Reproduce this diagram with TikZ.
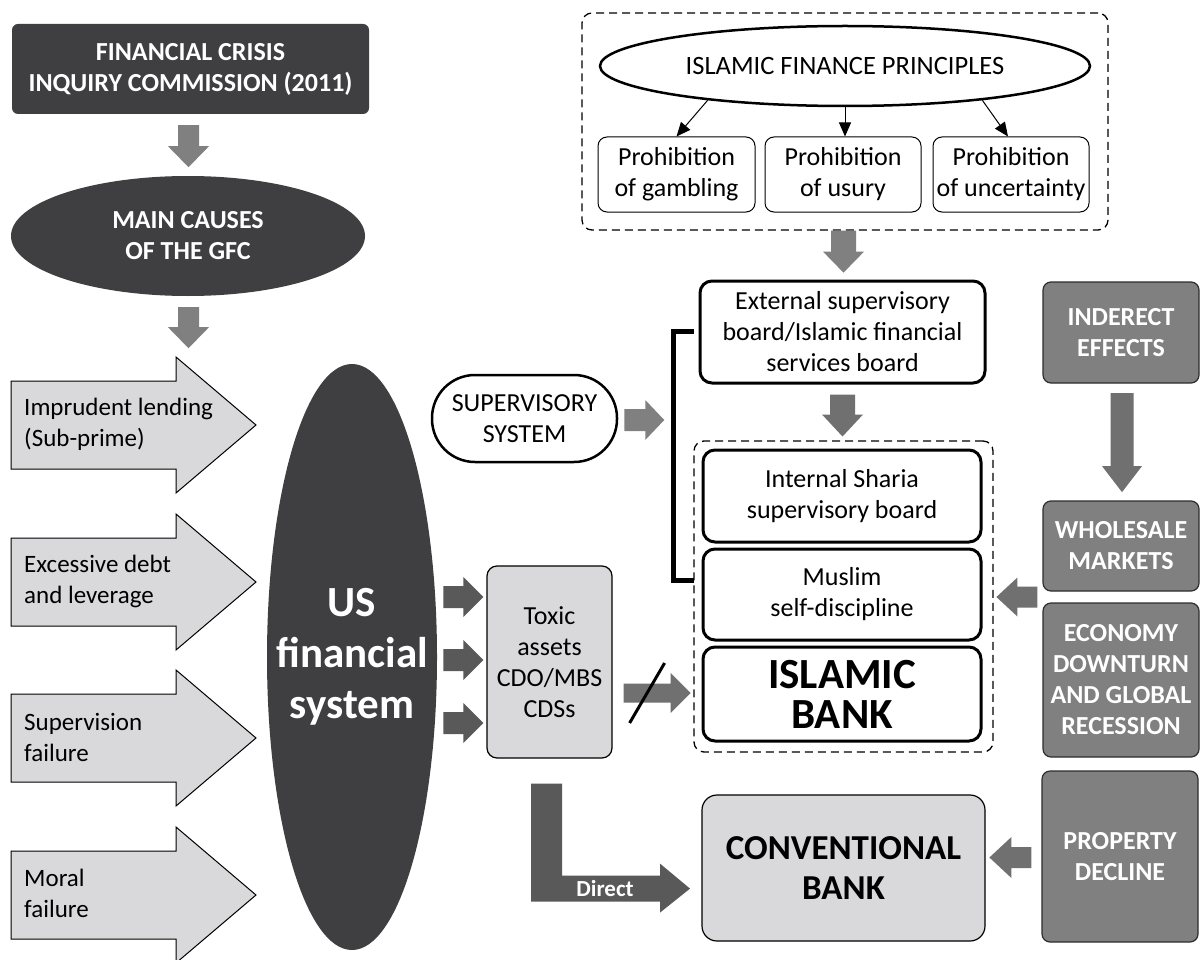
\documentclass[tikz,border=0pt]{standalone}
\usepackage{fontspec}
\setmainfont{Carlito}
\usetikzlibrary{calc,shapes.geometric,arrows.meta}
\definecolor{darkfill}{RGB}{63,63,65}
\definecolor{midgray}{RGB}{128,128,128}
\definecolor{deepgray}{RGB}{89,89,89}
\definecolor{arrgray}{RGB}{112,112,112}
\definecolor{lightfill}{RGB}{217,217,219}
\definecolor{boxgray}{RGB}{128,128,128}
\definecolor{boxedge}{RGB}{45,45,45}
% #1 style, #2 start, #3 angle, #4 length, #5 shaft half width, #6 head half width, #7 head length
\newcommand{\blockarrow}[7]{%
  \path[#1, shift={#2}, rotate=#3] (0,#5) -- ({#4-#7},#5) -- ({#4-#7},#6) -- (#4,0) -- ({#4-#7},-#6) -- ({#4-#7},-#5) -- (0,-#5) -- cycle;}
\tikzset{
  txt/.style={font=\fontsize{26}{31}\selectfont, align=center, inner sep=0pt},
  wbold/.style={font=\bfseries\fontsize{26}{31}\selectfont, text=white, align=center, inner sep=0pt},
  darkrect/.style={rectangle, rounded corners=6pt, fill=darkfill, wbold},
  graybox/.style={rectangle, rounded corners=8pt, fill=boxgray, draw=boxedge, line width=1.2pt, wbold},
  whitebox/.style={rectangle, rounded corners=12pt, draw=black, line width=3pt, fill=white, txt},
  thinbox/.style={rectangle, rounded corners=9pt, draw=black, line width=1pt, txt},
  lightbox/.style={rectangle, rounded corners=10pt, draw=black, line width=1.2pt, fill=lightfill, txt},
  dashbox/.style={rectangle, rounded corners=10pt, draw=black, line width=1.3pt, dash pattern=on 8pt off 5pt},
  leftarrow/.style={fill=lightfill, draw=black, line width=1pt},
  causetext/.style={txt, font=\fontsize{25}{31}\selectfont, align=left, anchor=west},
  thinarrow/.style={-{Triangle[length=14pt,width=12pt]}, line width=1pt},
}
\begin{document}
\begin{tikzpicture}[x=1pt, y=-1pt]
\useasboundingbox (0,0) rectangle (1201,960);
\fill[white] (0,0) rectangle (1201,960);

% ---------- left column ----------
\node[darkrect, minimum width=357pt, minimum height=90pt] (fcic) at (190.5,69) {FINANCIAL CRISIS\\INQUIRY COMMISSION (2011)};
\node[ellipse, fill=darkfill, wbold, minimum width=354pt, minimum height=120pt] (main) at (188,236) {MAIN CAUSES\\OF THE GFC};
\blockarrow{fill=midgray}{($(fcic.south)+(-2,11)$)}{-90}{42}{10.5}{20.5}{21}
\blockarrow{fill=midgray}{($(main.south)+(0.5,11)$)}{-90}{41}{10.5}{20.5}{21}

% cause arrows
\blockarrow{leftarrow}{(11,425)}{0}{245}{44}{68}{80}
\blockarrow{leftarrow}{(11,582)}{0}{245}{44}{68}{80}
\blockarrow{leftarrow}{(11,738)}{0}{245}{44}{68}{80}
\blockarrow{leftarrow}{(11,895)}{0}{245}{44}{68}{80}
\node[causetext] (c1) at (24,424) {Imprudent lending\\(Sub-prime)};
\node[causetext] (c2) at (24,581) {Excessive debt\\and leverage};
\node[causetext] (c3) at (24,737) {Supervision\\failure};
\node[causetext] (c4) at (24,893) {Moral\\failure};

% US financial system
\node[ellipse, fill=darkfill, minimum width=170pt, minimum height=586pt, inner sep=0pt] (us) at (352,657) {};
\node[font=\bfseries\fontsize{43}{51}\selectfont, text=white, align=center, inner sep=0pt] (ustext) at (us.center) {US\\financial\\system};

% toxic assets
\node[lightbox, minimum width=125pt, minimum height=192pt] (toxic) at (549.5,662) {Toxic\\assets\\CDO/MBS\\CDSs};
\blockarrow{fill=deepgray}{($(toxic.west)+(-43,-65)$)}{0}{40}{11}{20}{20}
\blockarrow{fill=deepgray}{($(toxic.west)+(-43,-2)$)}{0}{40}{11}{20}{20}
\blockarrow{fill=deepgray}{($(toxic.west)+(-43,61)$)}{0}{40}{11}{20}{20}

% direct L arrow
\begin{scope}[shift={(toxic.south)}]
\fill[deepgray] (-18.5,25) -- (12.5,25) -- (12.5,117) -- (110.5,117) -- (110.5,105) -- (140.5,130) -- (110.5,154) -- (110.5,143) -- (-18.5,143) -- cycle;
\node[font=\bfseries\fontsize{23}{26}\selectfont, text=white, inner sep=0pt] (direct) at (55.5,130) {Direct};
\end{scope}

% ---------- Islamic finance principles ----------
\node[dashbox, minimum width=526pt, minimum height=217pt] (pbox) at (845,121.5) {};
\node[ellipse, draw=black, line width=2.5pt, minimum width=490pt, minimum height=80pt, txt, font=\fontsize{26.5}{31}\selectfont] (pr) at (845,66) {ISLAMIC FINANCE PRINCIPLES};
\node[thinbox, minimum width=157pt, minimum height=75pt] (p1) at (676.5,174.5) {Prohibition\\of gambling};
\node[thinbox, minimum width=156pt, minimum height=75pt] (p2) at (843,174.5) {Prohibition\\of usury};
\node[thinbox, minimum width=156pt, minimum height=75pt] (p3) at (1011,174.5) {Prohibition\\of uncertainty};
\draw[thinarrow] (pr.194) -- (p1.north);
\draw[thinarrow] (pr.south) -- (pr.south |- p2.north);
\draw[thinarrow] (pr.346) -- ($(p3.north)+(-3,0)$);
\blockarrow{fill=midgray}{($(pbox.south)+(-1.5,0)$)}{-90}{42}{12.5}{20.5}{21}

% ---------- supervisory chain ----------
\node[whitebox, minimum width=285pt, minimum height=102pt] (ext) at (842.5,332) {External supervisory\\board/Islamic financial\\services board};
\node[rectangle, rounded corners=43pt, draw=black, line width=2.5pt, minimum width=185pt, minimum height=87pt, txt] (sup) at (524.5,418.5) {SUPERVISORY\\SYSTEM};
\blockarrow{fill=midgray}{($(sup.east)+(6,1.5)$)}{0}{40}{11}{20}{19}
\blockarrow{fill=arrgray}{($(ext.south)+(0,10)$)}{-90}{42}{12.5}{20.5}{22}

\node[dashbox, minimum width=299pt, minimum height=311pt] (ib) at (843.5,596.5) {};
\node[whitebox, minimum width=278pt, minimum height=92pt] (isb) at (842,496) {Internal Sharia\\supervisory board};
\node[whitebox, minimum width=278pt, minimum height=91pt] (mus) at (842,594.5) {Muslim\\self-discipline};
\node[whitebox, minimum width=278pt, minimum height=94pt, font=\bfseries\fontsize{43}{40}\selectfont] (bank) at (842,694) {ISLAMIC\\BANK};
\draw[line width=5pt] ($(ext.west)+(-5,-1)$) -- ($(ext.west)+(-25,-1)$) |- ($(mus.west)+(-8,-14.5)$);

\blockarrow{fill=arrgray}{($(toxic.east)+(11,31)$)}{0}{67}{9.5}{20}{20}
\draw[line width=3pt] ($(toxic.east)+(17,61)$) -- ($(toxic.east)+(52,1)$);

% ---------- conventional bank ----------
\node[lightbox, rounded corners=15pt, minimum width=283pt, minimum height=146pt, font=\bfseries\fontsize{35}{40}\selectfont] (conv) at (843.5,868) {CONVENTIONAL\\BANK};

% ---------- right column ----------
\node[graybox, minimum width=156pt, minimum height=101pt] (ind) at (1121,332.5) {INDERECT\\EFFECTS};
\node[graybox, minimum width=156pt, minimum height=90pt] (whl) at (1121,546) {WHOLESALE\\MARKETS};
\node[graybox, minimum width=156pt, minimum height=154pt] (eco) at (1121,680) {ECONOMY\\DOWNTURN\\AND GLOBAL\\RECESSION};
\node[graybox, minimum width=156pt, minimum height=171pt] (prop) at (1120,856.5) {PROPERTY\\DECLINE};
\blockarrow{fill=arrgray}{($(ind.south)+(1,9.5)$)}{-90}{99}{11.5}{20}{26}
\blockarrow{fill=arrgray}{($($(whl.south west)!0.5!(eco.north west)$)+(-5,0)$)}{180}{41}{10.5}{19.5}{21}
\blockarrow{fill=arrgray}{($(prop.west)+(-10,1)$)}{180}{42}{10.5}{20.5}{22}
\end{tikzpicture}
\end{document}
